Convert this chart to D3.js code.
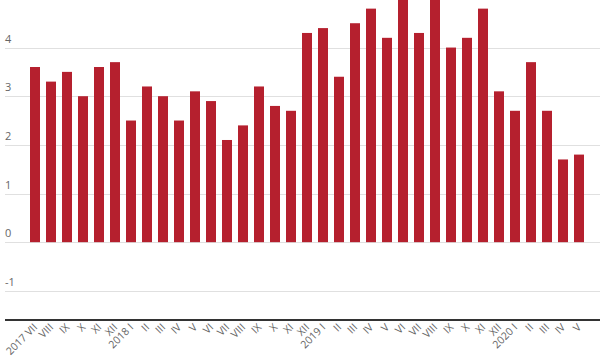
<!DOCTYPE html>
<html><head><meta charset="utf-8">
<script src="https://cdn.jsdelivr.net/npm/d3@7"></script>
<style>
html,body{margin:0;padding:0;background:#fff;}
svg{display:block;font-family:"Open Sans",sans-serif;}
</style></head>
<body>
<svg id="c" width="600" height="360"></svg>
<script>
const categories = ["2017 VII","VIII","IX","X","XI","XII",
  "2018 I","II","III","IV","V","VI","VII","VIII","IX","X","XI","XII",
  "2019 I","II","III","IV","V","VI","VII","VIII","IX","X","XI","XII",
  "2020 I","II","III","IV","V"];
const values = [3.6,3.3,3.5,3.0,3.6,3.7,
  2.5,3.2,3.0,2.5,3.1,2.9,2.1,2.4,3.2,2.8,2.7,4.3,
  4.4,3.4,4.5,4.8,4.2,5.0,4.3,5.0,4.0,4.2,4.8,3.1,
  2.7,3.7,2.7,1.7,1.8];
const yTicks = [-1,0,1,2,3,4];

const svg = d3.select("#c");
const W = 600;
const y = d3.scaleLinear().domain([-1.6, 5]).range([320, -1.1]);
const x = d3.scaleBand().domain(categories.map((c,i)=>i)).range([27, 587]).paddingInner(0.375).paddingOuter(0.1875);

// gridlines
const g = svg.append("g");
g.selectAll("line.grid").data(yTicks).join("line")
  .attr("x1", 5).attr("x2", W)
  .attr("y1", d => Math.round(y(d))+0.5).attr("y2", d => Math.round(y(d))+0.5)
  .attr("stroke", "#e0e0e0").attr("stroke-width", 1);
g.selectAll("text.ylab").data(yTicks).join("text")
  .attr("x", 5).attr("y", d => y(d) - 5)
  .attr("font-size", 11).attr("fill", "#666")
  .text(d => d);

// bars
svg.append("g").selectAll("rect").data(values).join("rect")
  .attr("x", (d,i) => x(i))
  .attr("width", x.bandwidth())
  .attr("y", d => y(Math.max(0,d)))
  .attr("height", d => Math.abs(y(d) - y(0)))
  .attr("fill", "#b5202e");

// axis line
svg.append("line").attr("x1", 5).attr("x2", W)
  .attr("y1", 320).attr("y2", 320)
  .attr("stroke", "#333").attr("stroke-width", 2);

// x labels
svg.append("g").selectAll("text").data(categories).join("text")
  .attr("transform", (d,i) => `translate(${x(i)+x.bandwidth()/2+3},${328}) rotate(-45)`)
  .attr("text-anchor", "end")
  .attr("font-size", 10.5).attr("fill", "#666")
  .text(d => d);
</script>
</body></html>
